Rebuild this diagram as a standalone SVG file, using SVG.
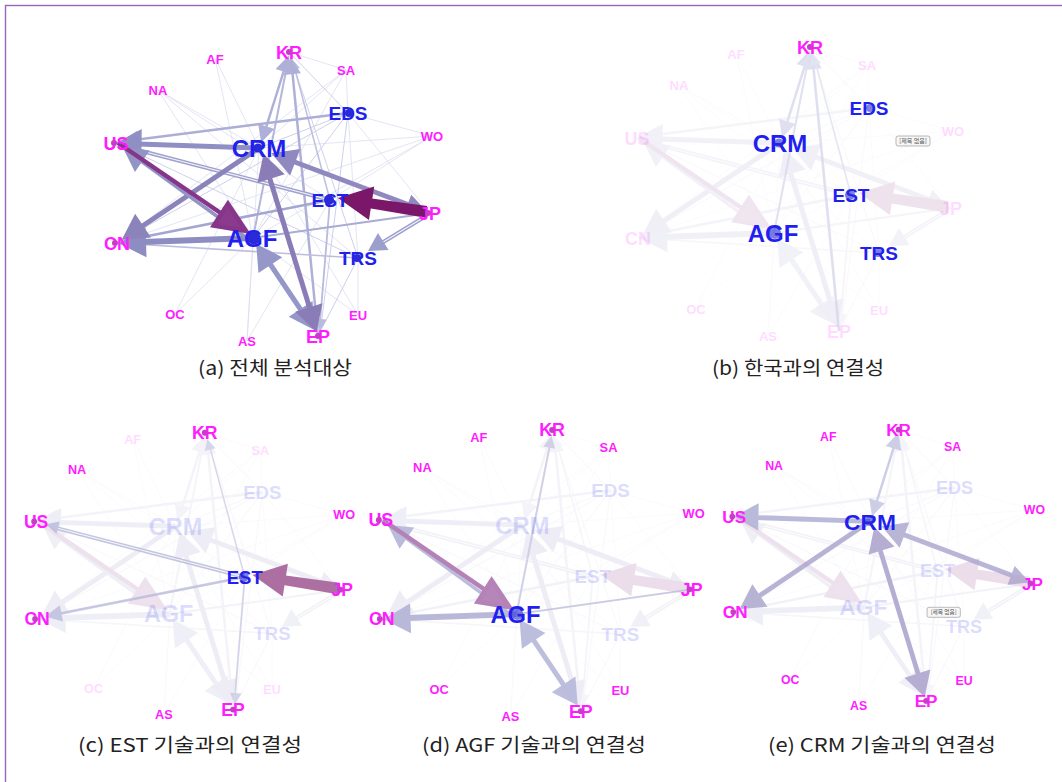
<svg xmlns="http://www.w3.org/2000/svg" xmlns:xlink="http://www.w3.org/1999/xlink" width="1062" height="782" viewBox="0 0 1062 782">
<style>
.n text{font-family:"Liberation Sans",Arial,sans-serif;font-weight:bold;text-anchor:middle}
.c text{fill:#ff1cff}.c circle{fill:#c83cc8}
.t text{fill:#1f1ff0}.t circle{fill:#2a2ad8}
.s text{font-size:13px}.b text{font-size:18px}.m text{font-size:19px}.x text{font-size:24px}
.f{opacity:.15}
.cap{font-family:"Noto Sans CJK KR","Liberation Sans",sans-serif;font-size:19px;fill:#222;text-anchor:middle}
.tip rect{fill:#f7f7f7;stroke:#8a8a8a;stroke-width:.6}
.tip text{font-family:"Noto Sans CJK KR",sans-serif;font-size:6px;fill:#555;text-anchor:middle}
line{stroke-linecap:butt}
</style>
<defs>
<path id="hxl" d="M0 0L-34-17L-34 17Z"/>
<path id="hl" d="M0 0L-30-13L-30 13Z"/>
<path id="hm" d="M0 0L-18-10L-18 10Z"/>
<path id="hs" d="M0 0L-13-6.5L-13 6.5Z"/>
<path id="hxs" d="M0 0L-9-4.5L-9 4.5Z"/>
<g id="E">
 <g id="thin" stroke="#dcdef0" stroke-width=".8">
  <line id="tCRMAF" x1="259" y1="148" x2="215" y2="58"/>
  <line id="tCRMNA" x1="259" y1="148" x2="158" y2="90"/>
  <line id="tCRMSA" x1="259" y1="148" x2="346" y2="70"/>
  <line id="tCRMWO" x1="259" y1="148" x2="432" y2="136"/>
  <line id="tCRMOC" x1="259" y1="148" x2="175" y2="314"/>
  <line id="tCRMAS" x1="259" y1="148" x2="247" y2="341"/>
  <line id="tCRMEU" x1="259" y1="148" x2="358" y2="315"/>
  <line id="tAGFAF" x1="253" y1="238" x2="215" y2="58"/>
  <line id="tAGFNA" x1="253" y1="238" x2="158" y2="90"/>
  <line id="tAGFSA" x1="253" y1="238" x2="346" y2="70"/>
  <line id="tAGFWO" x1="253" y1="238" x2="432" y2="136"/>
  <line id="tAGFOC" x1="253" y1="238" x2="175" y2="314"/>
  <line id="tAGFAS" x1="253" y1="238" x2="247" y2="341"/>
  <line id="tAGFEU" x1="253" y1="238" x2="358" y2="315"/>
  <line id="tESTNA" x1="330" y1="200" x2="158" y2="90"/>
  <line id="tESTWO" x1="330" y1="200" x2="432" y2="136"/>
  <line id="tESTAS" x1="330" y1="200" x2="247" y2="341"/>
  <line x1="289" y1="52" x2="346" y2="70"/>
  <line x1="348" y1="113" x2="430" y2="213"/>
  <line x1="348" y1="113" x2="358" y2="258"/>
  <line x1="348" y1="113" x2="432" y2="136"/>
  <line x1="348" y1="113" x2="346" y2="70"/>
  <line x1="358" y1="258" x2="358" y2="315"/>
  <line x1="158" y1="90" x2="358" y2="258"/>
  <line x1="346" y1="70" x2="117" y2="243"/>
  <line x1="432" y1="136" x2="117" y2="243"/>
 </g>
 <g stroke="#ced0ea" stroke-width="1">
  <line id="eKREDS" x1="289" y1="52" x2="348" y2="113"/>
  <line id="eKRTRS" x1="289" y1="52" x2="358" y2="258"/>
  <line x1="348" y1="113" x2="259" y2="148"/>
  <line x1="348" y1="113" x2="253" y2="238"/>
  <line x1="348" y1="113" x2="117" y2="243"/>
  <line x1="348" y1="113" x2="320" y2="334"/>
  <line x1="116" y1="143" x2="358" y2="258"/>
  <line x1="358" y1="258" x2="318" y2="336"/>
 </g>
 <g id="eESTEP" stroke="#b8bade" fill="#b8bade" stroke-width="1.8"><line x1="330" y1="200" x2="320" y2="322"/><use href="#hxs" transform="translate(320 329) rotate(94.5)"/></g>
 <g id="eESTKR" stroke="#bec0e0" fill="#bec0e0" stroke-width="1.5"><line x1="330" y1="200" x2="294" y2="66"/><use href="#hxs" transform="translate(292 60) rotate(-105)"/></g>
 <g id="eKRAGF" stroke="#b4b6da" fill="#b4b6da" stroke-width="2"><line x1="253" y1="238" x2="287" y2="66"/><use href="#hxs" transform="translate(288 60) rotate(-79)"/></g>
 <g id="eKREP" stroke="#aeb0d8" fill="#aeb0d8" stroke-width="2.5"><line x1="318" y1="336" x2="292" y2="68"/><use href="#hs" transform="translate(291 60) rotate(-95.6)"/></g>
 <g id="eKRCRM" stroke="#aeb0d8" fill="#aeb0d8" stroke-width="2.5"><line x1="286" y1="64" x2="264" y2="134"/><use href="#hs" transform="translate(288 58) rotate(-72.6)"/><use href="#hs" transform="translate(262 140) rotate(107.4)"/></g>
 <g id="eTRSCN" stroke="#bcbedf" fill="#bcbedf" stroke-width="1.5"><line x1="358" y1="258" x2="134" y2="244"/><use href="#hxs" transform="translate(127 244) rotate(183.5)"/></g>
 <g id="eJPAGF" stroke="#a9abd4" stroke-width="2"><line x1="430" y1="213" x2="253" y2="238"/></g>
 <g id="eEDSUS" stroke="#acaed6" fill="#acaed6" stroke-width="2.5"><line x1="348" y1="113" x2="134" y2="140"/><use href="#hs" transform="translate(124 141) rotate(173.1)"/></g>
 <g id="eESTUS" fill="#9ea0ce"><line x1="330" y1="200" x2="134" y2="149" stroke="#9ea0ce" stroke-width="4"/><line x1="330" y1="200" x2="134" y2="149" stroke="#f2f2f8" stroke-width="1.2"/><use href="#hs" transform="translate(126 146) rotate(194.7)"/></g>
 <g id="eESTCN" stroke="#a4a6d2" fill="#a4a6d2" stroke-width="2.5"><line x1="330" y1="200" x2="138" y2="238"/><use href="#hs" transform="translate(128 240) rotate(168.8)"/></g>
 <g id="eJPTRS" fill="#9c9ecc"><line x1="426" y1="216" x2="380" y2="244" stroke="#9c9ecc" stroke-width="4"/><line x1="426" y1="216" x2="380" y2="244" stroke="#f2f2f8" stroke-width="1.2"/><use href="#hm" transform="translate(368 251) rotate(148)"/></g>
 <g id="eAGFEP" stroke="#9597c9" fill="#9597c9" stroke-width="5"><line x1="266" y1="258" x2="305" y2="316"/><use href="#hm" transform="translate(259 248) rotate(236.4)"/><use href="#hm" transform="translate(312 326) rotate(56.4)"/></g>
 <g id="eEPCRM" stroke="#8a7db7" fill="#8a7db7" stroke-width="5"><line x1="269" y1="176" x2="310" y2="309"/><use href="#hm" transform="translate(265 159) rotate(252.6)"/><use href="#hm" transform="translate(315 327) rotate(72.6)"/></g>
 <g id="eJPCRM" stroke="#8f89c0" fill="#8f89c0" stroke-width="5"><line x1="412" y1="206" x2="292" y2="161"/><use href="#hm" transform="translate(276 155) rotate(200.8)"/><use href="#hs" transform="translate(422 210) rotate(20.8)"/></g>
 <g id="eAGFCN" stroke="#8d8dc1" fill="#8d8dc1" stroke-width="6"><line x1="253" y1="238" x2="142" y2="242"/><use href="#hm" transform="translate(125 243) rotate(178)"/></g>
 <g id="eCRMCN" stroke="#8b84bb" fill="#8b84bb" stroke-width="5"><line x1="259" y1="148" x2="141" y2="227"/><use href="#hm" transform="translate(126 237) rotate(146.3)"/></g>
 <g id="eCRMUS" stroke="#8f8fc3" fill="#8f8fc3" stroke-width="5"><line x1="259" y1="148" x2="138" y2="144"/><use href="#hm" transform="translate(121 143) rotate(181)"/></g>
 <g id="eUSAGF">
  <g stroke="#9294c6" fill="#9294c6" stroke-width="3.5"><line x1="251" y1="241" x2="141" y2="161"/><use href="#hm" transform="translate(126 150) rotate(214.5)"/></g>
  <g stroke="#86358a" fill="#8b3b8d" stroke-width="4.5"><line x1="118" y1="143" x2="225" y2="216"/><use href="#hl" transform="translate(246 231) rotate(33)"/></g>
 </g>
 <g id="eJPEST" fill="#7b1769"><path d="M427 206L427 218L368 208L368 198Z"/><use href="#hxl" transform="translate(338 198) rotate(188.9)"/></g>
</g>
</defs>
<rect x="5.5" y="5.5" width="1070" height="800" fill="#fff" stroke="#9466c2" stroke-width="1.4"/>

<!-- (a) -->
<g id="panel-a">
 <g id="a-edges"><use href="#E"/></g>
 <g id="a-KR" class="n c b"><text x="289" y="58.5">KR</text><circle cx="289" cy="52" r="3"/></g>
 <g id="a-AF" class="n c s"><text x="215" y="63.7">AF</text></g>
 <g id="a-SA" class="n c s"><text x="346" y="74.7">SA</text></g>
 <g id="a-NA" class="n c s"><text x="158" y="94.7">NA</text></g>
 <g id="a-WO" class="n c s"><text x="432" y="140.7">WO</text></g>
 <g id="a-US" class="n c b"><text x="116" y="149.5">US</text><circle cx="114" cy="143" r="3"/></g>
 <g id="a-CN" class="n c b"><text x="117" y="249.5">CN</text><circle cx="115" cy="243" r="3"/></g>
 <g id="a-JP" class="n c b"><text x="430" y="219.5">JP</text><circle cx="428" cy="213" r="3"/></g>
 <g id="a-EP" class="n c b"><text x="318" y="342.5">EP</text><circle cx="318" cy="336" r="3"/></g>
 <g id="a-OC" class="n c s"><text x="175" y="318.7">OC</text></g>
 <g id="a-EU" class="n c s"><text x="358" y="319.7">EU</text></g>
 <g id="a-AS" class="n c s"><text x="247" y="345.7">AS</text></g>
 <g id="a-EDS" class="n t m"><text x="348" y="119.8">EDS</text><circle cx="349" cy="113" r="4"/></g>
 <g id="a-CRM" class="n t x"><text x="259" y="156.6">CRM</text><circle cx="258" cy="148" r="4.5"/></g>
 <g id="a-EST" class="n t m"><text x="330" y="206.8">EST</text><circle cx="329" cy="200" r="5"/></g>
 <g id="a-AGF" class="n t x"><text x="252" y="246.6">AGF</text><circle cx="254" cy="238" r="6.5"/></g>
 <g id="a-TRS" class="n t m"><text x="358" y="264.8">TRS</text><circle cx="357" cy="258" r="4"/></g>
</g>

<!-- (b) -->
<g id="panel-b" transform="translate(521 -5)">
 <g id="b-edges"><use href="#E" opacity=".12"/>
  <g opacity=".3"><use href="#eKRCRM"/><use href="#eKRAGF"/><use href="#eKREP"/><use href="#eESTKR"/><use href="#eKREDS"/><use href="#eKRTRS"/></g>
 </g>
 <g id="b-KR" class="n c b"><text x="289" y="58.5">KR</text><circle cx="289" cy="52" r="3"/></g>
 <g id="b-AF" class="n c s f"><text x="215" y="63.7">AF</text></g>
 <g id="b-SA" class="n c s f"><text x="346" y="74.7">SA</text></g>
 <g id="b-NA" class="n c s f"><text x="158" y="94.7">NA</text></g>
 <g id="b-WO" class="n c s f"><text x="432" y="140.7">WO</text></g>
 <g id="b-US" class="n c b f"><text x="116" y="149.5">US</text></g>
 <g id="b-CN" class="n c b f"><text x="117" y="249.5">CN</text></g>
 <g id="b-JP" class="n c b f"><text x="430" y="219.5">JP</text></g>
 <g id="b-EP" class="n c b f"><text x="318" y="342.5">EP</text></g>
 <g id="b-OC" class="n c s f"><text x="175" y="318.7">OC</text></g>
 <g id="b-EU" class="n c s f"><text x="358" y="319.7">EU</text></g>
 <g id="b-AS" class="n c s f"><text x="247" y="345.7">AS</text></g>
 <g id="b-EDS" class="n t m"><text x="348" y="119.8">EDS</text><circle cx="349" cy="113" r="4" opacity=".6"/></g>
 <g id="b-CRM" class="n t x"><text x="259" y="156.6">CRM</text><circle cx="258" cy="148" r="4.5" opacity=".6"/></g>
 <g id="b-EST" class="n t m"><text x="330" y="206.8">EST</text><circle cx="329" cy="200" r="5" opacity=".6"/></g>
 <g id="b-AGF" class="n t x"><text x="252" y="246.6">AGF</text><circle cx="254" cy="238" r="6" opacity=".6"/></g>
 <g id="b-TRS" class="n t m"><text x="358" y="264.8">TRS</text><circle cx="357" cy="258" r="4" opacity=".6"/></g>
 <g id="b-tip" class="tip"><rect x="375" y="141" width="34" height="10" rx="2"/><text x="392" y="148.2">[제목 없음]</text></g>
</g>

<!-- (c) -->
<g id="panel-c" transform="translate(-77 382) scale(.975)">
 <g id="c-edges"><use href="#E" opacity=".14"/>
  <g opacity=".55"><use href="#tESTNA"/><use href="#tESTWO"/><use href="#tESTAS"/><use href="#eESTKR"/><use href="#eESTEP"/><use href="#eESTCN"/><use href="#eESTUS"/><use href="#eJPEST"/></g>
 </g>
 <g id="c-KR" class="n c b"><text x="289" y="58.5">KR</text><circle cx="289" cy="52" r="3"/></g>
 <g id="c-AF" class="n c s f"><text x="215" y="63.7">AF</text></g>
 <g id="c-SA" class="n c s f"><text x="346" y="74.7">SA</text></g>
 <g id="c-NA" class="n c s"><text x="158" y="94.7">NA</text></g>
 <g id="c-WO" class="n c s"><text x="432" y="140.7">WO</text></g>
 <g id="c-US" class="n c b"><text x="116" y="149.5">US</text><circle cx="114" cy="143" r="3"/></g>
 <g id="c-CN" class="n c b"><text x="117" y="249.5">CN</text><circle cx="115" cy="243" r="3"/></g>
 <g id="c-JP" class="n c b"><text x="430" y="219.5">JP</text><circle cx="428" cy="213" r="3"/></g>
 <g id="c-EP" class="n c b"><text x="318" y="342.5">EP</text><circle cx="318" cy="336" r="3"/></g>
 <g id="c-OC" class="n c s f"><text x="175" y="318.7">OC</text></g>
 <g id="c-EU" class="n c s f"><text x="358" y="319.7">EU</text></g>
 <g id="c-AS" class="n c s"><text x="247" y="345.7">AS</text></g>
 <g id="c-EDS" class="n t m f"><text x="348" y="119.8">EDS</text></g>
 <g id="c-CRM" class="n t x f"><text x="259" y="156.6">CRM</text></g>
 <g id="c-EST" class="n t m"><text x="330" y="206.8">EST</text><circle cx="329" cy="200" r="5" opacity=".6"/></g>
 <g id="c-AGF" class="n t x f"><text x="252" y="246.6">AGF</text></g>
 <g id="c-TRS" class="n t m f"><text x="358" y="264.8">TRS</text></g>
</g>

<!-- (d) -->
<g id="panel-d" transform="translate(266 378.5) scale(.99)">
 <g id="d-edges"><use href="#E" opacity=".14"/>
  <g opacity=".55"><use href="#tAGFAF"/><use href="#tAGFNA"/><use href="#tAGFSA"/><use href="#tAGFWO"/><use href="#tAGFOC"/><use href="#tAGFAS"/><use href="#tAGFEU"/><use href="#eKRAGF"/><use href="#eJPAGF"/><use href="#eAGFEP"/><use href="#eAGFCN"/><use href="#eUSAGF"/></g>
 </g>
 <g id="d-KR" class="n c b"><text x="289" y="58.5">KR</text><circle cx="289" cy="52" r="3"/></g>
 <g id="d-AF" class="n c s"><text x="215" y="63.7">AF</text></g>
 <g id="d-SA" class="n c s"><text x="346" y="74.7">SA</text></g>
 <g id="d-NA" class="n c s"><text x="158" y="94.7">NA</text></g>
 <g id="d-WO" class="n c s"><text x="432" y="140.7">WO</text></g>
 <g id="d-US" class="n c b"><text x="116" y="149.5">US</text><circle cx="114" cy="143" r="3"/></g>
 <g id="d-CN" class="n c b"><text x="117" y="249.5">CN</text><circle cx="115" cy="243" r="3"/></g>
 <g id="d-JP" class="n c b"><text x="430" y="219.5">JP</text><circle cx="428" cy="213" r="3"/></g>
 <g id="d-EP" class="n c b"><text x="318" y="342.5">EP</text><circle cx="318" cy="336" r="3"/></g>
 <g id="d-OC" class="n c s"><text x="175" y="318.7">OC</text></g>
 <g id="d-EU" class="n c s"><text x="358" y="319.7">EU</text></g>
 <g id="d-AS" class="n c s"><text x="247" y="345.7">AS</text></g>
 <g id="d-EDS" class="n t m f"><text x="348" y="119.8">EDS</text></g>
 <g id="d-CRM" class="n t x f"><text x="259" y="156.6">CRM</text></g>
 <g id="d-EST" class="n t m f"><text x="330" y="206.8">EST</text></g>
 <g id="d-AGF" class="n t x"><text x="252" y="246.6">AGF</text><circle cx="254" cy="238" r="6" opacity=".6"/></g>
 <g id="d-TRS" class="n t m f"><text x="358" y="264.8">TRS</text></g>
</g>

<!-- (e) -->
<g id="panel-e" transform="translate(624 380) scale(.95 .955)">
 <g id="e-edges"><use href="#E" opacity=".14"/>
  <g opacity=".55"><use href="#tCRMAF"/><use href="#tCRMNA"/><use href="#tCRMSA"/><use href="#tCRMWO"/><use href="#tCRMOC"/><use href="#tCRMAS"/><use href="#tCRMEU"/><use href="#eKRCRM"/><use href="#eJPCRM"/><use href="#eEPCRM"/><use href="#eCRMCN"/><use href="#eCRMUS"/></g>
 </g>
 <g id="e-KR" class="n c b"><text x="289" y="58.5">KR</text><circle cx="289" cy="52" r="3"/></g>
 <g id="e-AF" class="n c s"><text x="215" y="63.7">AF</text></g>
 <g id="e-SA" class="n c s"><text x="346" y="74.7">SA</text></g>
 <g id="e-NA" class="n c s"><text x="158" y="94.7">NA</text></g>
 <g id="e-WO" class="n c s"><text x="432" y="140.7">WO</text></g>
 <g id="e-US" class="n c b"><text x="116" y="149.5">US</text><circle cx="114" cy="143" r="3"/></g>
 <g id="e-CN" class="n c b"><text x="117" y="249.5">CN</text><circle cx="115" cy="243" r="3"/></g>
 <g id="e-JP" class="n c b"><text x="430" y="219.5">JP</text><circle cx="428" cy="213" r="3"/></g>
 <g id="e-EP" class="n c b"><text x="318" y="342.5">EP</text><circle cx="318" cy="336" r="3"/></g>
 <g id="e-OC" class="n c s"><text x="175" y="318.7">OC</text></g>
 <g id="e-EU" class="n c s"><text x="358" y="319.7">EU</text></g>
 <g id="e-AS" class="n c s"><text x="247" y="345.7">AS</text></g>
 <g id="e-EDS" class="n t m f"><text x="348" y="119.8">EDS</text></g>
 <g id="e-CRM" class="n t x"><text x="259" y="156.6">CRM</text><circle cx="258" cy="148" r="4.5" opacity=".6"/></g>
 <g id="e-EST" class="n t m f"><text x="330" y="206.8">EST</text></g>
 <g id="e-AGF" class="n t x f"><text x="252" y="246.6">AGF</text></g>
 <g id="e-TRS" class="n t m f"><text x="358" y="264.8">TRS</text></g>
 <g id="e-tip" class="tip"><rect x="319" y="238" width="35" height="10.5" rx="2"/><text x="336.5" y="245.3">[제목 없음]</text></g>
</g>

<g id="captions">
 <text class="cap" x="275" y="375" textLength="154" lengthAdjust="spacingAndGlyphs">(a) 전체 분석대상</text>
 <text class="cap" x="798" y="375" textLength="172" lengthAdjust="spacingAndGlyphs">(b) 한국과의 연결성</text>
 <text class="cap" x="190" y="752" textLength="224" lengthAdjust="spacingAndGlyphs">(c) EST 기술과의 연결성</text>
 <text class="cap" x="534" y="752" textLength="224" lengthAdjust="spacingAndGlyphs">(d) AGF 기술과의 연결성</text>
 <text class="cap" x="882" y="752" textLength="228" lengthAdjust="spacingAndGlyphs">(e) CRM 기술과의 연결성</text>
</g>
</svg>
